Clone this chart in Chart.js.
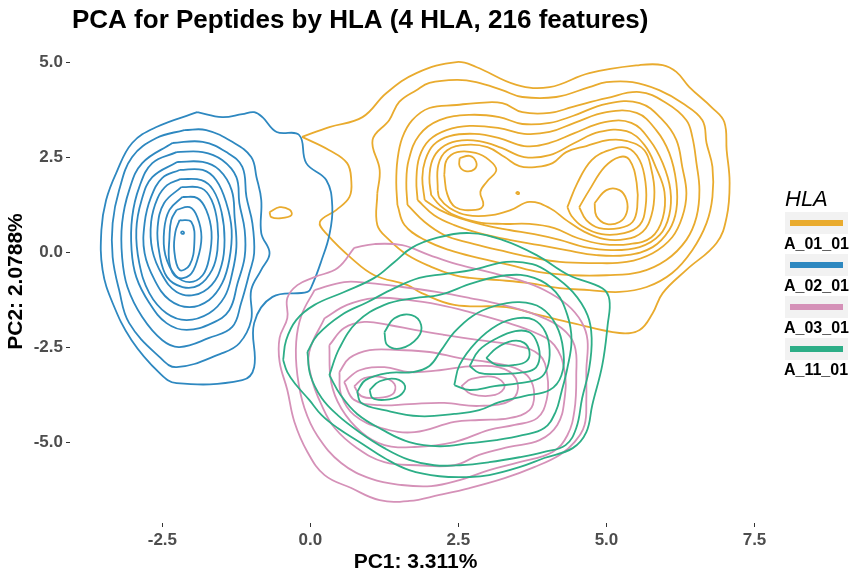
<!DOCTYPE html>
<html>
<head>
<meta charset="utf-8">
<title>PCA for Peptides by HLA</title>
<script src="https://cdn.jsdelivr.net/npm/chart.js@4/dist/chart.umd.min.js"></script>
<style>
    html, body { margin: 0; padding: 0; background: #ffffff; }
    #wrap { width: 864px; height: 576px; }
</style>
</head>
<body>
<div id="wrap"><canvas id="pcaChart" width="864" height="576"></canvas></div>
<script>
// groups and axis ticks
const hlaNames = ['A_01_01', 'A_02_01', 'A_03_01', 'A_11_01']
const xTickValues = [-2.5, 0, 2.5, 5, 7.5]
const yTickValues = [-5, -2.5, 0, 2.5, 5]

// density contour rings, [PC1, PC2] per point
const ringsA0101 = [
    [[-0.14,3.03],[0.32,3.29],[0.88,3.55],[1.28,4.18],[1.79,4.71],[2.47,5.00],[2.80,4.87],[3.48,4.40],[4.04,4.34],[4.71,4.71],[5.56,4.92],[5.95,4.92],[6.18,4.74],[6.40,4.34],[6.79,3.79],[6.99,3.42],[7.03,2.68],[7.08,1.82],[7.03,0.92],[6.86,0.24],[6.35,-0.47],[5.95,-1.08],[5.78,-1.61],[5.56,-2.05],[5.22,-2.13],[4.43,-1.87],[3.87,-1.66],[3.31,-1.45],[2.43,-1.39],[1.88,-1.08],[1.64,-0.87],[1.08,-0.61],[0.69,-0.16],[0.29,0.45],[0.16,0.79],[0.44,1.11],[0.66,1.45],[0.69,1.89],[0.62,2.34],[0.32,2.68]],
    [[1.13,1.55],[1.17,2.16],[1.05,2.95],[1.33,3.47],[1.50,3.95],[1.79,4.26],[2.01,4.45],[2.47,4.53],[2.80,4.47],[3.24,4.26],[3.58,4.08],[4.15,4.08],[4.71,4.34],[5.00,4.47],[5.44,4.47],[5.89,4.26],[6.28,3.92],[6.62,3.47],[6.69,2.87],[6.79,2.24],[6.79,1.45],[6.69,0.76],[6.45,0.05],[6.11,-0.55],[5.68,-0.92],[5.22,-1.05],[4.71,-1.00],[4.21,-0.95],[3.70,-0.82],[3.19,-0.74],[2.69,-0.68],[2.43,-0.61],[2.04,-0.39],[1.64,-0.08],[1.33,0.32],[1.13,0.71]],
    [[1.47,1.24],[1.45,1.82],[1.47,2.42],[1.55,3.00],[1.72,3.47],[2.01,3.79],[2.47,3.87],[2.80,3.92],[3.24,3.92],[3.58,3.68],[4.04,3.66],[4.43,3.82],[5.00,4.05],[5.56,4.21],[6.01,3.92],[6.35,3.47],[6.45,3.03],[6.52,2.34],[6.57,1.63],[6.52,0.92],[6.35,0.32],[6.01,-0.21],[5.56,-0.53],[5.00,-0.61],[4.43,-0.61],[3.87,-0.53],[3.36,-0.34],[2.85,-0.16],[2.35,0.05],[1.93,0.32],[1.59,0.71]],
    [[1.64,1.24],[1.62,1.82],[1.66,2.42],[1.84,3.08],[2.18,3.47],[2.69,3.61],[3.19,3.55],[3.58,3.37],[4.04,3.40],[4.43,3.58],[5.00,3.90],[5.56,3.92],[5.95,3.47],[6.18,2.95],[6.28,2.24],[6.35,1.55],[6.28,0.92],[6.11,0.39],[5.78,-0.03],[5.34,-0.26],[4.76,-0.29],[4.21,-0.26],[3.70,-0.13],[3.19,0.05],[2.69,0.24],[2.26,0.45],[1.93,0.79]],
    [[1.81,1.37],[1.79,1.89],[1.84,2.50],[2.01,2.95],[2.30,3.21],[2.69,3.32],[3.19,3.26],[3.61,3.11],[4.04,3.16],[4.46,3.40],[5.00,3.68],[5.51,3.66],[5.84,3.21],[6.06,2.61],[6.18,1.82],[6.18,1.11],[6.06,0.58],[5.78,0.13],[5.34,-0.08],[4.83,-0.08],[4.32,0.05],[3.87,0.18],[3.36,0.32],[2.85,0.50],[2.43,0.71],[2.09,0.97]],
    [[1.93,1.37],[1.89,1.95],[1.94,2.42],[2.08,2.82],[2.35,3.05],[2.77,3.11],[3.19,3.00],[3.61,2.79],[4.04,2.87],[4.46,3.13],[4.97,3.42],[5.42,3.40],[5.73,2.95],[5.95,2.34],[6.08,1.63],[6.06,0.97],[5.90,0.45],[5.56,0.13],[5.08,0.05],[4.63,0.13],[4.21,0.32],[3.78,0.47],[3.36,0.58],[2.94,0.71],[2.52,0.89],[2.18,1.11]],
    [[2.04,1.50],[2.01,1.95],[2.06,2.42],[2.21,2.74],[2.47,2.92],[2.85,2.92],[3.23,2.74],[3.61,2.50],[4.04,2.55],[4.46,2.87],[4.88,3.16],[5.34,3.18],[5.64,2.82],[5.84,2.21],[5.98,1.58],[5.95,0.89],[5.76,0.39],[5.39,0.21],[4.93,0.21],[4.51,0.37],[4.12,0.63],[3.70,0.74],[3.24,0.74],[2.82,0.79],[2.43,0.97],[2.18,1.24]],
    [[2.15,1.63],[2.16,2.29],[2.31,2.68],[2.63,2.82],[2.99,2.76],[3.28,2.50],[3.53,2.26],[3.82,2.24],[4.09,2.34],[4.32,2.63],[4.66,2.79],[5.05,2.95],[5.35,2.92],[5.64,2.68],[5.76,2.16],[5.81,1.58],[5.76,0.97],[5.61,0.53],[5.32,0.34],[4.97,0.34],[4.63,0.53],[4.32,0.84],[4.04,1.16],[3.70,1.32],[3.39,1.11],[3.06,0.97],[2.65,0.97],[2.35,1.16],[2.18,1.42]],
    [[2.26,2.03],[2.30,2.42],[2.48,2.63],[2.79,2.61],[3.02,2.42],[3.14,2.16],[2.99,1.87],[2.87,1.58],[2.92,1.24],[2.79,1.11],[2.45,1.18],[2.31,1.53]],
    [[2.52,2.47],[2.69,2.53],[2.80,2.37],[2.77,2.18],[2.62,2.13],[2.52,2.26]],
    [[4.34,1.18],[4.51,1.82],[4.75,2.42],[5.05,2.68],[5.35,2.74],[5.56,2.42],[5.66,1.82],[5.66,1.18],[5.56,0.71],[5.30,0.50],[4.92,0.47],[4.59,0.68],[4.41,0.95]],
    [[4.54,1.18],[4.71,1.63],[4.97,2.24],[5.22,2.50],[5.39,2.42],[5.51,1.82],[5.52,1.18],[5.44,0.79],[5.22,0.63],[4.88,0.63],[4.66,0.84]],
    [[4.80,1.29],[5.00,1.63],[5.22,1.63],[5.34,1.37],[5.34,1.03],[5.22,0.79],[5.00,0.74],[4.83,0.95]],
    [[3.48,1.53],[3.52,1.53],[3.52,1.57],[3.48,1.57]],
    [[-0.69,1.05],[-0.52,1.18],[-0.35,1.11],[-0.32,0.97],[-0.49,0.89],[-0.66,0.92]]
]

const ringsA0201 = [
    [[-1.91,3.68],[-1.49,3.55],[-1.15,3.63],[-0.95,3.68],[-0.81,3.55],[-0.57,3.16],[-0.19,3.08],[-0.07,2.34],[0.27,1.89],[0.37,1.18],[0.32,0.45],[0.19,-0.21],[0.03,-0.87],[-0.05,-1.05],[-0.64,-1.18],[-0.95,-1.87],[-0.95,-3.03],[-1.15,-3.37],[-2.26,-3.45],[-2.55,-3.18],[-3.02,-2.32],[-3.34,-1.34],[-3.51,-0.47],[-3.53,0.58],[-3.45,1.37],[-3.28,2.08],[-3.01,2.87],[-2.60,3.29]],
    [[-2.13,3.21],[-1.76,3.21],[-1.32,2.90],[-1.00,2.50],[-0.91,1.97],[-0.83,1.37],[-0.83,0.50],[-0.69,-0.03],[-0.83,-0.47],[-1.00,-1.00],[-1.00,-1.79],[-1.20,-2.40],[-1.49,-2.66],[-2.26,-3.03],[-2.55,-2.76],[-3.06,-1.87],[-3.23,-1.00],[-3.34,-0.13],[-3.34,0.76],[-3.23,1.63],[-3.01,2.50],[-2.60,3.00]],
    [[-2.33,2.87],[-1.82,2.90],[-1.42,2.63],[-1.15,2.24],[-1.08,1.45],[-0.98,0.76],[-0.95,-0.03],[-1.03,-0.55],[-1.17,-1.34],[-1.32,-1.97],[-1.71,-2.26],[-2.21,-2.50],[-2.50,-2.32],[-2.84,-1.71],[-3.09,-0.92],[-3.18,-0.13],[-3.18,0.76],[-3.06,1.63],[-2.84,2.34]],
    [[-2.26,2.63],[-1.82,2.63],[-1.49,2.42],[-1.25,1.97],[-1.20,1.29],[-1.11,0.58],[-1.11,-0.13],[-1.23,-0.82],[-1.37,-1.53],[-1.66,-1.87],[-2.09,-2.05],[-2.43,-1.87],[-2.72,-1.34],[-2.94,-0.66],[-3.02,0.05],[-3.01,0.92],[-2.89,1.71],[-2.67,2.34]],
    [[-2.25,2.37],[-1.82,2.37],[-1.54,2.16],[-1.33,1.63],[-1.28,0.92],[-1.25,0.13],[-1.32,-0.55],[-1.45,-1.18],[-1.71,-1.61],[-2.09,-1.79],[-2.43,-1.61],[-2.72,-1.08],[-2.89,-0.29],[-2.94,0.58],[-2.85,1.37],[-2.67,1.97]],
    [[-2.21,2.16],[-1.82,2.16],[-1.59,1.89],[-1.42,1.29],[-1.33,0.58],[-1.37,-0.21],[-1.49,-0.82],[-1.71,-1.26],[-2.04,-1.45],[-2.38,-1.26],[-2.63,-0.74],[-2.80,-0.03],[-2.80,0.76],[-2.69,1.45],[-2.50,1.95]],
    [[-2.20,1.92],[-1.84,1.89],[-1.64,1.63],[-1.50,1.05],[-1.45,0.32],[-1.50,-0.34],[-1.67,-0.87],[-1.96,-1.13],[-2.26,-1.05],[-2.50,-0.61],[-2.67,0.05],[-2.69,0.79],[-2.58,1.42],[-2.42,1.76]],
    [[-2.18,1.71],[-1.84,1.68],[-1.67,1.37],[-1.57,0.76],[-1.57,0.05],[-1.66,-0.47],[-1.88,-0.87],[-2.16,-0.92],[-2.42,-0.66],[-2.55,-0.03],[-2.58,0.66],[-2.47,1.29]],
    [[-2.16,1.45],[-1.91,1.42],[-1.76,1.11],[-1.67,0.53],[-1.71,-0.16],[-1.82,-0.61],[-2.04,-0.79],[-2.28,-0.61],[-2.45,-0.08],[-2.47,0.58],[-2.38,1.11]],
    [[-2.26,1.11],[-2.04,1.18],[-1.91,0.92],[-1.84,0.39],[-1.91,-0.21],[-2.04,-0.61],[-2.26,-0.66],[-2.38,-0.29],[-2.38,0.39],[-2.35,0.84]],
    [[-2.21,0.84],[-2.01,0.79],[-1.96,0.24],[-2.04,-0.34],[-2.21,-0.47],[-2.30,0.05],[-2.28,0.53]],
    [[-2.18,0.48],[-2.14,0.48],[-2.14,0.53],[-2.18,0.53]]
]

const ringsA0301 = [
    [[0.74,0.11],[1.08,0.21],[1.55,0.18],[2.01,-0.08],[2.47,-0.32],[3.02,-0.53],[3.53,-0.74],[3.95,-1.00],[4.34,-1.39],[4.58,-1.84],[4.68,-2.32],[4.66,-3.11],[4.66,-3.89],[4.63,-4.55],[4.46,-5.00],[4.21,-5.34],[3.78,-5.66],[3.28,-5.95],[2.69,-6.21],[2.18,-6.39],[1.67,-6.55],[1.17,-6.53],[0.69,-6.21],[0.24,-5.87],[-0.05,-5.26],[-0.27,-4.47],[-0.39,-3.63],[-0.52,-2.89],[-0.52,-2.26],[-0.39,-1.74],[-0.39,-1.21],[-0.22,-0.87],[0.07,-0.66],[0.46,-0.42]],
    [[0.07,-1.00],[0.57,-0.79],[1.00,-0.82],[1.55,-0.92],[2.13,-1.05],[2.69,-1.21],[3.24,-1.39],[3.82,-1.66],[4.24,-2.00],[4.46,-2.45],[4.49,-3.24],[4.46,-4.16],[4.34,-4.82],[4.09,-5.26],[3.53,-5.53],[3.02,-5.74],[2.52,-6.00],[2.04,-6.16],[1.54,-6.13],[1.03,-5.97],[0.52,-5.55],[0.12,-4.84],[-0.10,-4.11],[-0.22,-3.24],[-0.24,-2.37],[-0.15,-1.66]],
    [[0.24,-1.74],[0.62,-1.39],[1.08,-1.21],[1.64,-1.26],[2.18,-1.39],[2.69,-1.58],[3.28,-1.84],[3.78,-2.11],[4.12,-2.45],[4.29,-3.11],[4.29,-3.89],[4.17,-4.55],[3.87,-4.95],[3.36,-5.13],[2.85,-5.34],[2.43,-5.61],[1.81,-5.61],[1.25,-5.53],[0.79,-5.16],[0.41,-4.63],[0.19,-4.03],[0.02,-3.32],[-0.02,-2.63]],
    [[0.32,-2.45],[0.57,-2.00],[0.91,-1.84],[1.33,-1.92],[1.76,-2.05],[2.26,-2.18],[2.85,-2.32],[3.45,-2.45],[3.87,-2.71],[4.00,-3.24],[3.99,-3.89],[3.83,-4.37],[3.45,-4.55],[3.02,-4.68],[2.43,-5.00],[1.76,-5.13],[1.25,-5.08],[0.86,-4.74],[0.52,-4.11],[0.35,-3.42]],
    [[0.49,-3.16],[0.66,-2.79],[1.00,-2.58],[1.50,-2.58],[2.01,-2.63],[2.52,-2.79],[3.02,-2.90],[3.45,-3.05],[3.70,-3.32],[3.78,-3.76],[3.70,-4.16],[3.36,-4.37],[2.85,-4.42],[2.43,-4.47],[1.76,-4.74],[1.20,-4.63],[0.74,-4.29],[0.52,-3.76]],
    [[0.57,-3.42],[0.83,-3.11],[1.25,-3.03],[1.67,-3.16],[2.18,-3.11],[2.77,-3.00],[3.28,-3.08],[3.50,-3.45],[3.40,-3.89],[2.85,-4.05],[2.26,-3.97],[1.67,-4.00],[1.17,-4.03],[0.74,-3.89]],
    [[0.74,-3.53],[0.91,-3.32],[1.20,-3.29],[1.42,-3.47],[1.39,-3.74],[1.13,-3.84],[0.86,-3.79]],
    [[2.55,-3.53],[2.72,-3.34],[3.11,-3.29],[3.28,-3.53],[3.12,-3.76],[2.72,-3.74]]
]

const ringsA1101 = [
    [[-0.46,-2.84],[-0.41,-2.32],[-0.24,-1.79],[0.07,-1.39],[0.57,-1.05],[1.08,-0.68],[1.42,-0.26],[1.71,0.11],[2.13,0.37],[2.69,0.50],[3.24,0.32],[3.82,-0.08],[4.37,-0.61],[4.93,-0.95],[5.05,-1.26],[5.02,-1.92],[4.93,-2.97],[4.76,-4.03],[4.66,-4.74],[4.43,-5.16],[3.95,-5.42],[3.53,-5.66],[3.02,-5.87],[2.69,-5.92],[2.18,-5.90],[1.67,-5.74],[1.25,-5.42],[0.86,-5.03],[0.46,-4.63],[0.19,-4.29],[-0.02,-3.89],[-0.24,-3.50],[-0.39,-3.16]],
    [[-0.05,-2.63],[0.12,-2.18],[0.52,-1.66],[0.96,-1.32],[1.42,-0.95],[1.84,-0.68],[2.26,-0.58],[2.74,-0.47],[3.31,-0.26],[3.75,-0.32],[4.07,-0.58],[4.43,-1.05],[4.68,-1.66],[4.75,-2.26],[4.71,-3.05],[4.59,-3.84],[4.49,-4.63],[4.31,-5.08],[3.95,-5.26],[3.53,-5.40],[3.02,-5.53],[2.52,-5.61],[2.09,-5.61],[1.67,-5.47],[1.25,-5.16],[0.83,-4.74],[0.46,-4.29],[0.19,-3.84],[0.00,-3.24]],
    [[0.32,-3.24],[0.49,-2.53],[0.79,-1.84],[1.25,-1.39],[1.76,-1.21],[2.18,-1.13],[2.74,-0.82],[3.31,-0.61],[3.78,-0.68],[4.14,-1.05],[4.34,-1.66],[4.41,-2.32],[4.34,-3.05],[4.24,-3.68],[4.14,-4.21],[3.95,-4.63],[3.58,-4.82],[3.14,-4.95],[2.69,-5.03],[2.18,-5.11],[1.67,-5.00],[1.22,-4.68],[0.79,-4.26],[0.51,-3.76]],
    [[0.79,-3.68],[0.93,-3.37],[1.33,-3.18],[1.72,-3.16],[2.01,-3.00],[2.21,-2.58],[2.43,-2.11],[2.74,-1.68],[3.11,-1.42],[3.53,-1.32],[3.90,-1.47],[4.15,-1.92],[4.27,-2.58],[4.24,-3.24],[4.04,-3.63],[3.61,-3.79],[3.19,-3.95],[2.85,-4.16],[2.43,-4.26],[1.84,-4.32],[1.25,-4.16],[0.86,-3.97]],
    [[1.00,-3.63],[1.17,-3.40],[1.44,-3.34],[1.60,-3.53],[1.50,-3.79],[1.25,-3.89],[1.05,-3.84]],
    [[1.25,-2.11],[1.42,-1.74],[1.71,-1.66],[1.87,-1.92],[1.81,-2.26],[1.54,-2.53],[1.30,-2.45]],
    [[2.43,-3.50],[2.52,-2.97],[2.80,-2.37],[3.16,-1.92],[3.50,-1.74],[3.78,-1.79],[3.97,-2.11],[4.04,-2.58],[4.00,-3.05],[3.87,-3.32],[3.53,-3.45],[3.11,-3.53],[2.69,-3.63]],
    [[2.69,-3.00],[2.85,-2.58],[3.16,-2.26],[3.46,-2.08],[3.70,-2.11],[3.83,-2.39],[3.87,-2.79],[3.78,-3.08],[3.53,-3.18],[3.19,-3.21],[2.85,-3.18]],
    [[2.97,-2.79],[3.14,-2.53],[3.41,-2.34],[3.61,-2.39],[3.70,-2.63],[3.65,-2.87],[3.45,-2.97],[3.14,-2.97]]
]

const hlaRings = [ringsA0101, ringsA0201, ringsA0301, ringsA1101]
const hlaColors = ['#E9AB2E', '#2E88C0', '#D591B8', '#2DAE87']

const chartTitle = 'PCA for Peptides by HLA (4 HLA, 216 features)'
const legendTitle = 'HLA'
const xTitle = 'PC1: 3.311%'
const yTitle = 'PC2: 2.0788%'

const fontFamily = '"Liberation Sans", Arial, sans-serif'

// one closed line per contour ring
const datasets = []
hlaRings.forEach((rings, g) => {
    rings.forEach(ring => {
        const pts = ring.map(p => ({ x: p[0], y: p[1] }))
        pts.push({ x: ring[0][0], y: ring[0][1] })
        datasets.push({
            label: hlaNames[g],
            data: pts,
            showLine: true,
            borderColor: hlaColors[g],
            borderWidth: 1.8,
            pointRadius: 0,
            tension: 0.4,
            fill: false,
            order: 4 - g
        })
    })
})

// ggplot style title and legend (label under each key)
const titleAndLegend = {
    id: 'titleAndLegend',
    afterDraw(chart) {
        const ctx = chart.ctx
        ctx.save()
        ctx.fillStyle = '#000000'
        ctx.textAlign = 'left'
        ctx.textBaseline = 'alphabetic'
        ctx.font = 'bold 26px ' + fontFamily
        ctx.fillText(chartTitle, 72, 28)

        ctx.font = 'italic 22px ' + fontFamily
        ctx.fillText(legendTitle, 785, 206)

        hlaNames.forEach((name, i) => {
            const cy = 223 + i * 42
            ctx.fillStyle = '#F2F2F2'
            ctx.fillRect(785, cy - 11, 63, 22)
            ctx.strokeStyle = hlaColors[i]
            ctx.lineWidth = 6
            ctx.lineCap = 'butt'
            ctx.beginPath()
            ctx.moveTo(790, cy)
            ctx.lineTo(843, cy)
            ctx.stroke()
            ctx.fillStyle = '#000000'
            ctx.font = 'bold 16px ' + fontFamily
            ctx.textBaseline = 'middle'
            ctx.fillText(name, 784, cy + 22)
            ctx.textBaseline = 'alphabetic'
        })
        ctx.restore()
    }
}

const tickFont = { family: fontFamily, size: 17, weight: 'bold' }
const axisTitleFont = { family: fontFamily, size: 21, weight: 'bold' }

new Chart(document.getElementById('pcaChart').getContext('2d'), {
    type: 'scatter',
    data: { datasets },
    plugins: [titleAndLegend],
    options: {
        responsive: false,
        animation: false,
        events: [],
        layout: { padding: { top: 40, right: 103, left: 0, bottom: 0 } },
        plugins: {
            legend: { display: false },
            title: { display: false },
            tooltip: { enabled: false }
        },
        scales: {
            x: {
                type: 'linear',
                min: -4.06,
                max: 7.61,
                afterBuildTicks: axis => {
                    axis.ticks = xTickValues.map(v => ({ value: v }))
                },
                afterFit: axis => { axis.height = 53 },
                ticks: {
                    autoSkip: false,
                    maxRotation: 0,
                    padding: 3,
                    color: '#4D4D4D',
                    font: tickFont,
                    callback: v => Number(v).toFixed(1)
                },
                grid: {
                    display: true,
                    drawOnChartArea: false,
                    drawTicks: true,
                    tickLength: 4,
                    color: '#333333'
                },
                border: { display: false },
                title: {
                    display: true,
                    text: xTitle,
                    color: '#000000',
                    font: axisTitleFont,
                    padding: { top: 0, bottom: 1 }
                }
            },
            y: {
                type: 'linear',
                min: -7.13,
                max: 5.58,
                afterBuildTicks: axis => {
                    axis.ticks = yTickValues.map(v => ({ value: v }))
                },
                afterFit: axis => { axis.width = 70 },
                ticks: {
                    autoSkip: false,
                    padding: 3,
                    color: '#4D4D4D',
                    font: tickFont,
                    callback: v => Number(v).toFixed(1)
                },
                grid: {
                    display: true,
                    drawOnChartArea: false,
                    drawTicks: true,
                    tickLength: 4,
                    color: '#333333'
                },
                border: { display: false },
                title: {
                    display: true,
                    text: yTitle,
                    color: '#000000',
                    font: axisTitleFont,
                    padding: { top: 4, bottom: 0 }
                }
            }
        }
    }
})
</script>
</body>
</html>
